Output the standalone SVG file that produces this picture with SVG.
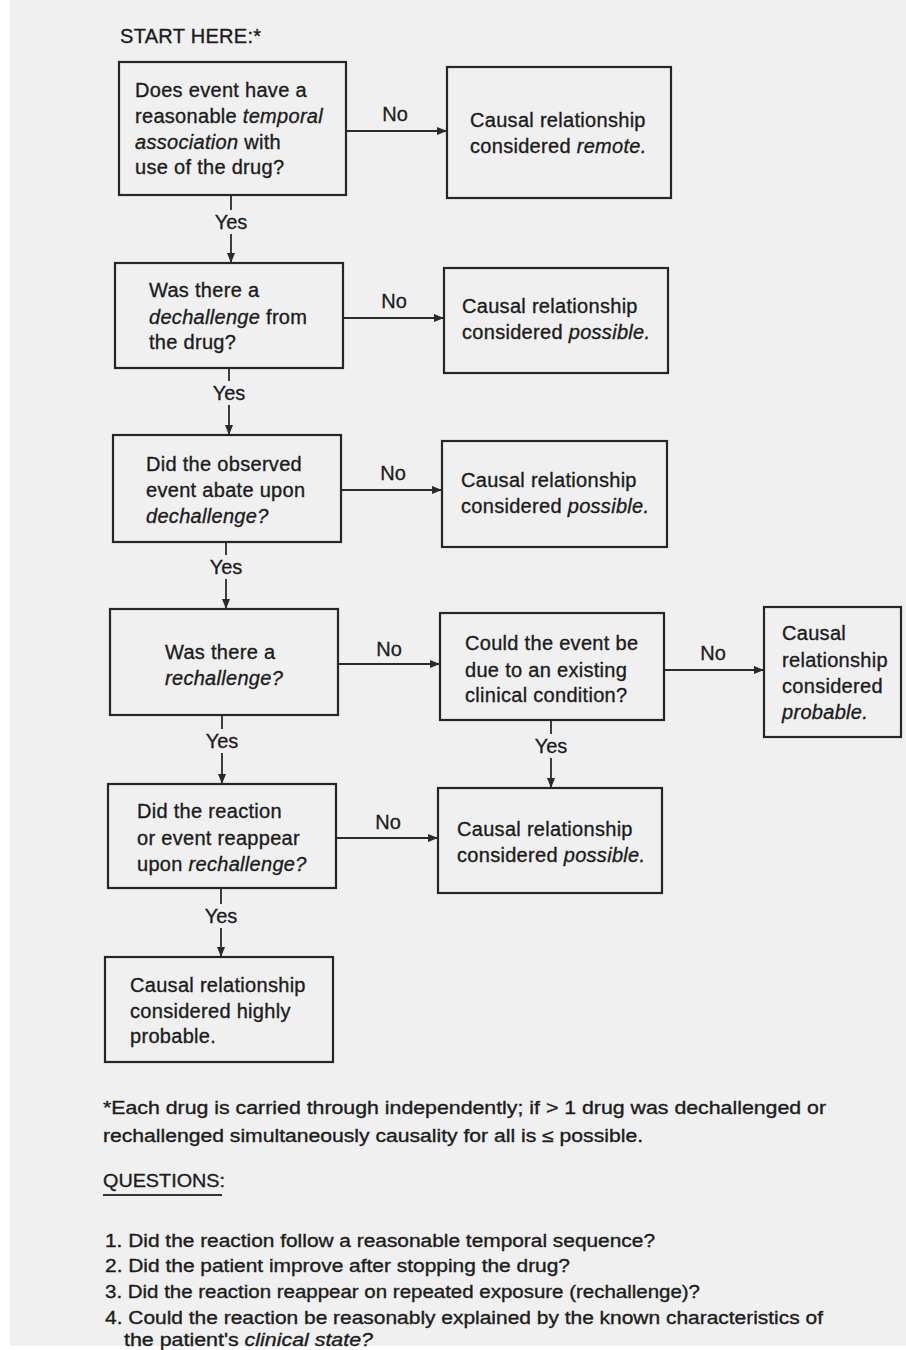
<svg xmlns="http://www.w3.org/2000/svg" width="906" height="1350" viewBox="0 0 906 1350">
<style>
.bg{fill:#f0f0f0}
.box{fill:none;stroke:#262626;stroke-width:2.2}
.t{font-family:"Liberation Sans",Arial,Helvetica,sans-serif;font-size:20px;fill:#1c1c1c;stroke:#1c1c1c;stroke-width:0.35;letter-spacing:0.3px}
.i{font-style:italic}
.lbl{font-family:"Liberation Sans",Arial,Helvetica,sans-serif;font-size:20px;fill:#1c1c1c;stroke:#1c1c1c;stroke-width:0.3;text-anchor:middle}
.note{font-family:"Liberation Sans",Arial,Helvetica,sans-serif;font-size:18px;fill:#1c1c1c;stroke:#1c1c1c;stroke-width:0.35}
.conn{stroke:#2a2a2a;stroke-width:1.8;fill:none;marker-end:url(#ah)}
</style>
<defs>
<marker id="ah" markerUnits="userSpaceOnUse" markerWidth="10" markerHeight="8" refX="10" refY="4" orient="auto">
<path d="M0,0 L10,4 L0,8 Z" fill="#2a2a2a"/>
</marker>
</defs>
<rect x="0" y="0" width="906" height="1350" fill="#ffffff"/>
<rect class="bg" x="10" y="0" width="896" height="1346"/>

<text class="t" x="120" y="43" font-size="19">START HERE:*</text>

<g id="connectors">
<line class="conn" x1="346" y1="131" x2="447" y2="131"/>
<line class="conn" x1="231" y1="195" x2="231" y2="263"/>
<line class="conn" x1="343" y1="318" x2="444" y2="318"/>
<line class="conn" x1="229" y1="368" x2="229" y2="435"/>
<line class="conn" x1="341" y1="490" x2="442" y2="490"/>
<line class="conn" x1="226" y1="542" x2="226" y2="609"/>
<line class="conn" x1="338" y1="664" x2="440" y2="664"/>
<line class="conn" x1="664" y1="670" x2="764" y2="670"/>
<line class="conn" x1="222" y1="715" x2="222" y2="784"/>
<line class="conn" x1="551" y1="720" x2="551" y2="788"/>
<line class="conn" x1="336" y1="838" x2="438" y2="838"/>
<line class="conn" x1="221" y1="888" x2="221" y2="957"/>
<text class="lbl" x="395" y="121">No</text>
<rect class="bg" x="214" y="210" width="34" height="24"/>
<text class="lbl" x="231" y="229">Yes</text>
<text class="lbl" x="394" y="308">No</text>
<rect class="bg" x="212" y="381" width="34" height="24"/>
<text class="lbl" x="229" y="400">Yes</text>
<text class="lbl" x="393" y="480">No</text>
<rect class="bg" x="209" y="555" width="34" height="24"/>
<text class="lbl" x="226" y="574">Yes</text>
<text class="lbl" x="389" y="656">No</text>
<text class="lbl" x="713" y="660">No</text>
<rect class="bg" x="205" y="729" width="34" height="24"/>
<text class="lbl" x="222" y="748">Yes</text>
<rect class="bg" x="534" y="734" width="34" height="24"/>
<text class="lbl" x="551" y="753">Yes</text>
<text class="lbl" x="388" y="829">No</text>
<rect class="bg" x="204" y="904" width="34" height="24"/>
<text class="lbl" x="221" y="923">Yes</text>
</g>

<g id="q1">
<rect class="box" x="119" y="62" width="227" height="133"/>
<text class="t" x="135" y="97">Does event have a</text>
<text class="t" x="135" y="123">reasonable <tspan class="i">temporal</tspan></text>
<text class="t" x="135" y="149"><tspan class="i">association</tspan> with</text>
<text class="t" x="135" y="174">use of the drug?</text>
</g>
<g id="r1">
<rect class="box" x="447" y="67" width="224" height="131"/>
<text class="t" x="470" y="127">Causal relationship</text>
<text class="t" x="470" y="153">considered <tspan class="i">remote.</tspan></text>
</g>

<g id="q2">
<rect class="box" x="115" y="263" width="228" height="105"/>
<text class="t" x="149" y="297">Was there a</text>
<text class="t" x="149" y="324"><tspan class="i">dechallenge</tspan> from</text>
<text class="t" x="149" y="349">the drug?</text>
</g>
<g id="r2">
<rect class="box" x="444" y="268" width="224" height="105"/>
<text class="t" x="462" y="313">Causal relationship</text>
<text class="t" x="462" y="339">considered <tspan class="i">possible.</tspan></text>
</g>

<g id="q3">
<rect class="box" x="113" y="435" width="228" height="107"/>
<text class="t" x="146" y="471">Did the observed</text>
<text class="t" x="146" y="497">event abate upon</text>
<text class="t" x="146" y="523"><tspan class="i">dechallenge?</tspan></text>
</g>
<g id="r3">
<rect class="box" x="442" y="441" width="225" height="106"/>
<text class="t" x="461" y="487">Causal relationship</text>
<text class="t" x="461" y="513">considered <tspan class="i">possible.</tspan></text>
</g>

<g id="q4">
<rect class="box" x="110" y="609" width="228" height="106"/>
<text class="t" x="165" y="659">Was there a</text>
<text class="t" x="165" y="685"><tspan class="i">rechallenge?</tspan></text>
</g>
<g id="q5">
<rect class="box" x="440" y="613" width="224" height="107"/>
<text class="t" x="465" y="650">Could the event be</text>
<text class="t" x="465" y="677">due to an existing</text>
<text class="t" x="465" y="702">clinical condition?</text>
</g>
<g id="r4">
<rect class="box" x="764" y="607" width="137" height="130"/>
<text class="t" x="782" y="640">Causal</text>
<text class="t" x="782" y="667">relationship</text>
<text class="t" x="782" y="693">considered</text>
<text class="t" x="782" y="719"><tspan class="i">probable.</tspan></text>
</g>

<g id="q6">
<rect class="box" x="108" y="784" width="228" height="104"/>
<text class="t" x="137" y="818">Did the reaction</text>
<text class="t" x="137" y="845">or event reappear</text>
<text class="t" x="137" y="871">upon <tspan class="i">rechallenge?</tspan></text>
</g>
<g id="r5">
<rect class="box" x="438" y="788" width="224" height="105"/>
<text class="t" x="457" y="836">Causal relationship</text>
<text class="t" x="457" y="862">considered <tspan class="i">possible.</tspan></text>
</g>

<g id="r6">
<rect class="box" x="105" y="957" width="228" height="105"/>
<text class="t" x="130" y="992">Causal relationship</text>
<text class="t" x="130" y="1018">considered highly</text>
<text class="t" x="130" y="1043">probable.</text>
</g>

<g id="notes">
<text class="note" x="103" y="1114" textLength="723" lengthAdjust="spacingAndGlyphs">*Each drug is carried through independently; if &gt; 1 drug was dechallenged or</text>
<text class="note" x="103" y="1142" textLength="540" lengthAdjust="spacingAndGlyphs">rechallenged simultaneously causality for all is ≤ possible.</text>
<text class="note" x="103" y="1187" font-size="19" textLength="122" lengthAdjust="spacingAndGlyphs">QUESTIONS:</text>
<line x1="103" y1="1195" x2="222" y2="1195" stroke="#333" stroke-width="2"/>
<text class="note" x="105" y="1247" textLength="550" lengthAdjust="spacingAndGlyphs">1. Did the reaction follow a reasonable temporal sequence?</text>
<text class="note" x="105" y="1272" textLength="465" lengthAdjust="spacingAndGlyphs">2. Did the patient improve after stopping the drug?</text>
<text class="note" x="105" y="1298" textLength="595" lengthAdjust="spacingAndGlyphs">3. Did the reaction reappear on repeated exposure (rechallenge)?</text>
<text class="note" x="105" y="1324" textLength="718" lengthAdjust="spacingAndGlyphs">4. Could the reaction be reasonably explained by the known characteristics of</text>
<text class="note" x="124" y="1346" textLength="249" lengthAdjust="spacingAndGlyphs">the patient's <tspan class="i">clinical state?</tspan></text>
</g>
</svg>
